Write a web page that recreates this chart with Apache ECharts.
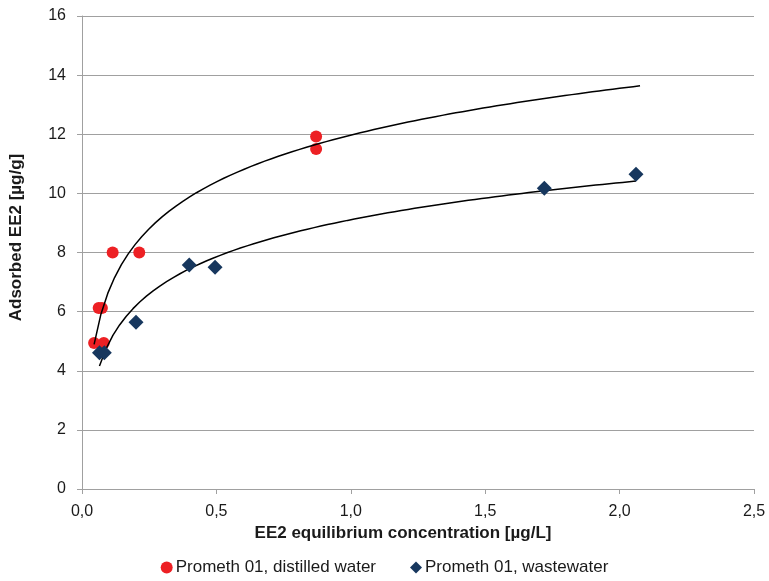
<!DOCTYPE html>
<html>
<head>
<meta charset="utf-8">
<script src="https://cdn.jsdelivr.net/npm/echarts@6/dist/echarts.min.js"></script>
<style>
html, body { margin: 0; padding: 0; background: #fff; }
#chart { width: 769px; height: 581px; }
</style>
</head>
<body>
<div id="chart"></div>
<script>
// measured points, EE2 equilibrium conc. [µg/L] vs adsorbed [µg/g]
var distilledX = [0.045, 0.081, 0.062, 0.074, 0.114, 0.213, 0.871, 0.871];
var distilledY = [4.94, 4.94, 6.12, 6.12, 8.00, 8.00, 11.92, 11.50];
var wasteX = [0.065, 0.083, 0.201, 0.399, 0.495, 1.720, 2.061];
var wasteY = [4.61, 4.61, 5.64, 7.58, 7.50, 10.17, 10.65];

var seriesNames = ['Prometh 01, distilled water', 'Prometh 01, wastewater'];
// trendline for distilled water is drawn forward up to this x
var distilledTrendEnd = 2.076;

function pairs(xs, ys) {
	var out = [];
	for (var i = 0; i < xs.length; i++) out.push([xs[i], ys[i]]);
	return out;
}

/**
 * logarithmic trendline y = a + b ln(x), like the spreadsheet one
 */
function logTrend(xs, ys, xEnd) {
	var n = xs.length, mx = 0, my = 0;
	for (var i = 0; i < n; i++) { mx += Math.log(xs[i]); my += ys[i]; }
	mx /= n; my /= n;
	var sxy = 0, sxx = 0;
	for (var i = 0; i < n; i++) {
		var dx = Math.log(xs[i]) - mx;
		sxy += dx * (ys[i] - my);
		sxx += dx * dx;
	}
	var b = sxy / sxx, a = my - b * mx;
	var x0 = Math.min.apply(null, xs), line = [];
	for (var k = 0; k <= 80; k++) {
		var x = x0 + (xEnd - x0) * k / 80;
		line.push([x, a + b * Math.log(x)]);
	}
	return line;
}

var textColor = '#1a1a1a';
var gridColor = '#a0a0a0';
var font = '"Liberation Sans", Arial, sans-serif';

var chart = echarts.init(document.getElementById('chart'));
chart.setOption({
	animation: false,
	textStyle: { fontFamily: font, color: textColor },
	grid: { left: 81, right: 15, top: 16, bottom: 92 },
	legend: {
		data: [
			{ name: seriesNames[0], icon: 'circle' },
			{ name: seriesNames[1], icon: 'diamond' }
		],
		bottom: 0,
		left: 'center',
		itemWidth: 12,
		itemHeight: 12,
		itemGap: 34,
		textStyle: { fontSize: 17, color: textColor, fontFamily: font, padding: [0, 0, 0, -2] }
	},
	xAxis: {
		type: 'value',
		min: 0,
		max: 2.5,
		interval: 0.5,
		name: 'EE2 equilibrium concentration [µg/L]',
		nameLocation: 'middle',
		nameGap: 34,
		nameTextStyle: { fontSize: 17, fontWeight: 'bold', color: textColor, fontFamily: font, padding: [0, 30, 0, 0] },
		axisLine: { lineStyle: { color: gridColor, width: 1 } },
		axisTick: { show: true, length: 5, lineStyle: { color: gridColor } },
		axisLabel: {
			fontSize: 16, color: textColor, margin: 15,
			formatter: function (v) { return v.toFixed(1).replace('.', ','); }
		},
		splitLine: { show: false }
	},
	yAxis: {
		type: 'value',
		min: 0,
		max: 16,
		interval: 2,
		name: 'Adsorbed EE2 [µg/g]',
		nameLocation: 'middle',
		nameGap: 57,
		nameTextStyle: { fontSize: 17, fontWeight: 'bold', color: textColor, fontFamily: font, padding: [0, 0, 0, 30] },
		axisLine: { show: true, lineStyle: { color: gridColor, width: 1 } },
		axisTick: { show: true, length: 5, lineStyle: { color: gridColor } },
		axisLabel: { fontSize: 16, color: textColor, margin: 16 },
		splitLine: { show: true, lineStyle: { color: gridColor, width: 1 } }
	},
	series: [
		{
			name: 'trend distilled',
			type: 'line',
			data: logTrend(distilledX, distilledY, distilledTrendEnd),
			showSymbol: false,
			lineStyle: { color: '#000', width: 1.5 },
			z: 3
		},
		{
			name: 'trend waste',
			type: 'line',
			data: logTrend(wasteX, wasteY, Math.max.apply(null, wasteX)),
			showSymbol: false,
			lineStyle: { color: '#000', width: 1.5 },
			z: 3
		},
		{
			name: seriesNames[0],
			type: 'scatter',
			symbol: 'circle',
			symbolSize: 12,
			itemStyle: { color: '#ed2024', opacity: 1 },
			data: pairs(distilledX, distilledY),
			z: 2
		},
		{
			name: seriesNames[1],
			type: 'scatter',
			symbol: 'diamond',
			symbolSize: 15,
			itemStyle: { color: '#17375e', opacity: 1 },
			data: pairs(wasteX, wasteY),
			z: 4
		}
	]
});
</script>
</body>
</html>
